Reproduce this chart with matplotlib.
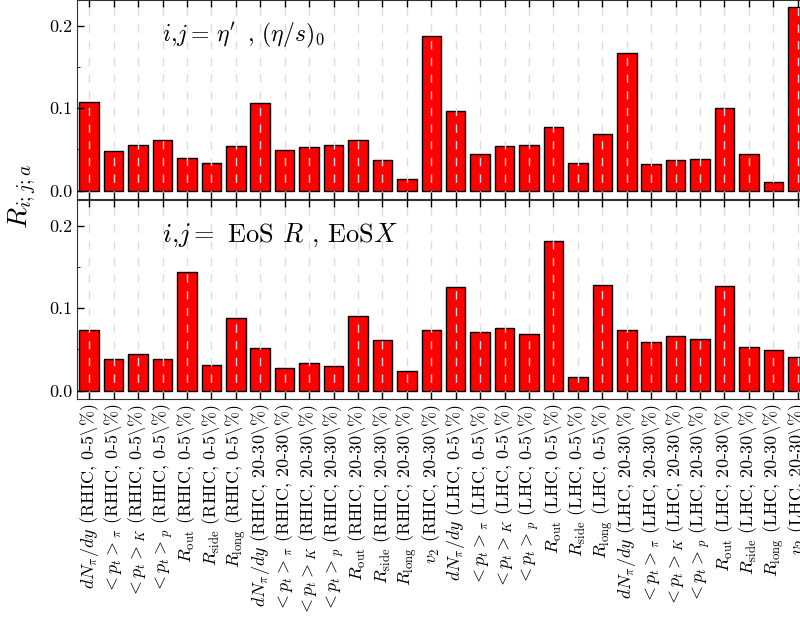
import matplotlib
matplotlib.use("Agg")
import matplotlib.pyplot as plt
import numpy as np
from matplotlib.ticker import MultipleLocator

plt.rcParams["font.family"] = "serif"
plt.rcParams["font.serif"] = ["cmr10"]
plt.rcParams["mathtext.fontset"] = "cm"
plt.rcParams["axes.unicode_minus"] = False
plt.rcParams["axes.formatter.use_mathtext"] = True

obs = [r"$dN_\pi/dy$", r"$<p_t>_\pi$", r"$<p_t>_K$", r"$<p_t>_p$",
       r"$R_{\rm out}$", r"$R_{\rm side}$", r"$R_{\rm long}$"]
labels = ([o + r" (RHIC, 0-5$\backslash$%)" for o in obs]
          + [o + r" (RHIC, 20-30$\backslash$%)" for o in obs]
          + [r"$v_2$ (RHIC, 20-30$\backslash$%)"]
          + [o + r" (LHC, 0-5$\backslash$%)" for o in obs]
          + [o + r" (LHC, 20-30$\backslash$%)" for o in obs]
          + [r"$v_2$ (LHC, 20-30$\backslash$%)"])

# eta/s panel
r_eta = [0.108, 0.048, 0.055, 0.062, 0.040, 0.033, 0.054,
         0.106, 0.049, 0.053, 0.055, 0.061, 0.037, 0.014,
         0.188,
         0.097, 0.044, 0.054, 0.055, 0.077, 0.033, 0.069,
         0.167, 0.032, 0.037, 0.038, 0.100, 0.045, 0.011,
         0.222]
# EoS panel
r_eos = [0.073, 0.039, 0.044, 0.038, 0.144, 0.031, 0.088,
         0.052, 0.028, 0.033, 0.030, 0.090, 0.061, 0.024,
         0.074,
         0.126, 0.071, 0.076, 0.069, 0.181, 0.017, 0.128,
         0.073, 0.059, 0.066, 0.063, 0.127, 0.053, 0.049,
         0.041]

x = np.arange(len(labels))

fig = plt.figure(figsize=(8, 6.24), dpi=100)
ax1 = fig.add_axes([77/800, 1 - 199/624, 733/800, 199/624])
ax2 = fig.add_axes([77/800, 1 - 399/624, 733/800, 199/624], sharex=ax1)

texts = [(r"$i{,}j = \,\eta^{\prime}\;\;,\,(\eta/s)_0$", 17),
         (r"$i{,}j = $ EoS $R$ , EoS$X$", 19)]

for ax, vals, (txt, fs) in [(ax1, r_eta, texts[0]), (ax2, r_eos, texts[1])]:
    ax.bar(x, vals, width=0.8, color="red", edgecolor="black", linewidth=1.0)
    ax.set_ylim(-0.01, 0.231)
    ax.set_xlim(-0.5, len(labels) - 0.5)
    ax.set_xticks(x)
    ax.yaxis.set_minor_locator(MultipleLocator(0.05))
    ax.set_yticks([0.0, 0.1, 0.2])
    ax.set_yticklabels(["0.0", "0.1", "0.2"])
    ax.xaxis.grid(True, linestyle=(0, (6, 6)), color="#dddddd", linewidth=1)
    ax.set_axisbelow(False)
    ax.tick_params(direction="in", top=True, right=True, labelsize=13,
                   length=5, width=1)
    ax.tick_params(which="minor", direction="in", right=True, length=2.5)
    for s in ax.spines.values():
        s.set_color("#333333")
    ax.text(0.116, 0.79, txt, transform=ax.transAxes, fontsize=fs,
            va="baseline", ha="left")

plt.setp(ax1.get_xticklabels(), visible=False)
ax2.set_xticklabels(labels, rotation=90, fontsize=13)

fig.text(22/800, 1 - 196/624, r"$R_{i{;}j{;}a}$", rotation=90, fontsize=20,
         ha="center", va="center")

fig.savefig("out.png", dpi=100)
